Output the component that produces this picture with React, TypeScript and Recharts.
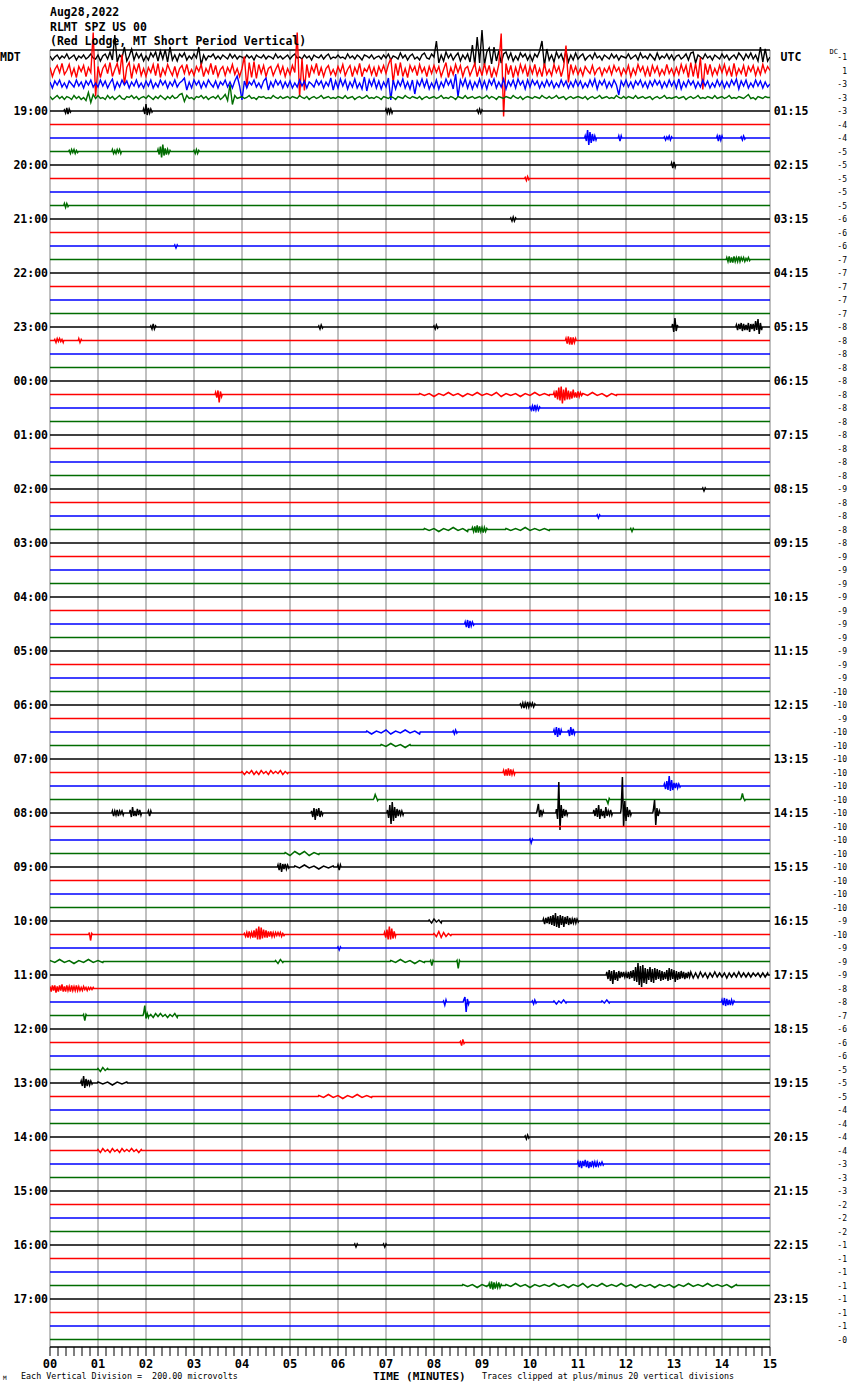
import React from 'react';
import { LineChart, Line, XAxis, YAxis, ReferenceLine } from 'recharts';

const WIDTH = 850;
const HEIGHT = 1390;
const SPACING = 13.5;
const Y_TOP = 32;
const Y_BOTTOM = -1290;
const FRAME_TOP = 7;
const TRACE_COUNT = 96;
const MONO = '"DejaVu Sans Mono", "Liberation Mono", monospace';

const COLORS = ['#000000', '#ff0000', '#0000ff', '#006c00'];
const MINUTES = [0, 1, 2, 3, 4, 5, 6, 7, 8, 9, 10, 11, 12, 13, 14, 15];
const X_TICK_LABELS = ['00', '01', '02', '03', '04', '05', '06', '07', '08', '09', '10', '11', '12', '13', '14', '15'];
const SUBTICKS_PER_MIN = 6;

const LEFT_LABELS = ['MDT', '19:00', '20:00', '21:00', '22:00', '23:00', '00:00', '01:00', '02:00', '03:00', '04:00', '05:00', '06:00', '07:00', '08:00', '09:00', '10:00', '11:00', '12:00', '13:00', '14:00', '15:00', '16:00', '17:00'];
const RIGHT_LABELS = ['UTC', '01:15', '02:15', '03:15', '04:15', '05:15', '06:15', '07:15', '08:15', '09:15', '10:15', '11:15', '12:15', '13:15', '14:15', '15:15', '16:15', '17:15', '18:15', '19:15', '20:15', '21:15', '22:15', '23:15'];
const DC_VALUES = [
  '-1', '1', '-3', '-3', '-3', '-4', '-4', '-5', '-5', '-5', '-5', '-5', '-6', '-6', '-6', '-7', '-7', '-7', '-7', '-7', '-8', '-8', '-8', '-8',
  '-8', '-8', '-8', '-8', '-8', '-8', '-8', '-8', '-9', '-8', '-8', '-8', '-8', '-9', '-9', '-9', '-9', '-9', '-9', '-9', '-9', '-9', '-9', '-10',
  '-10', '-9', '-10', '-10', '-10', '-10', '-10', '-10', '-10', '-10', '-10', '-10', '-10', '-10', '-10', '-10', '-9', '-10', '-9', '-9', '-9', '-8', '-8', '-7',
  '-6', '-6', '-6', '-5', '-5', '-5', '-4', '-4', '-4', '-4', '-3', '-3', '-3', '-2', '-2', '-2', '-1', '-1', '-1', '-1', '-1', '-1', '-1', '-0',
];

// Noise of the first (busy) hour, per minute, sampled every 0.05 min
const NOISE_STEP = 0.05;
const BLACK_NOISE = [
  [1, -3, 0, 2, -2, 1, -1, 3, -2, 0, 2, -3, 1, -1, 2, -2, 0, 3, -1, -2],
  [2, -4, 1, 3, -2, 5, -3, 22, -5, 2, -1, 10, -4, 1, 8, -3, 4, -1, 3, -4],
  [1, -3, 4, 0, 5, -4, 6, -2, 7, -5, 10, -3, 2, -4, 3, 0, 4, -3, 1, -2],
  [3, -1, 10, -8, 2, -3, 1, 0, 3, -2, 1, -2, 2, 0, -2, 3, -1, 2, -2, 1],
  [0, -2, 2, -1, 1, -3, 2, 0, -1, 2, -2, 1, 0, -2, 3, -1, 1, -2, 0, 2],
  [-2, 1, 3, -1, 0, -2, 2, -1, 1, -3, 2, 0, -1, 2, -2, 1, 3, -2, 0, -1],
  [2, -1, 0, -2, 3, -1, 1, -2, 2, 0, -3, 2, 1, -1, 2, -2, 0, 1, -2, 2],
  [-1, 3, -3, 1, 0, -2, 4, -1, 2, -3, 1, 3, -2, 0, -3, 2, 4, -1, -2, 3],
  [0, 16, -6, 2, -4, 5, -1, 3, -3, 1, 4, -4, 2, -2, 3, -5, 12, -8, 20, -6],
  [27, -8, 5, 9, -7, 10, -4, 6, -6, 3, 5, -2, 4, -4, 1, -3, 4, 0, 3, -3],
  [2, -4, 3, 0, 6, 16, -9, 8, -3, 2, -5, 5, -1, 3, -4, 6, -5, 2, -3, 4],
  [-2, 1, 3, -3, 0, 2, -2, 4, -1, 1, -3, 2, 0, -2, 3, -1, 2, -3, 1, 0],
  [-1, 3, -2, 0, 2, -3, 4, -1, 1, -2, 3, 0, -3, 4, -2, 1, -1, 3, -2, 2],
  [-3, 1, 2, -2, 0, 3, -3, 4, 5, -6, 2, 0, -2, 3, -1, 1, -3, 2, 0, -2],
  [3, -1, 2, -3, 0, 2, -2, 4, 1, -3, 3, -1, 4, -2, 2, -4, 10, -5, 8, -4],
];
const RED_NOISE = [
  [3, -6, 1, 5, -2, 7, -4, 0, 6, -5, 2, -7, 4, -1, 5, -6, 3, -2, 38, -26],
  [4, -7, 2, 6, -3, 8, -6, 1, 7, -4, 16, -14, 3, 8, -8, 5, -2, 7, -5, 2],
  [-6, 3, -2, 6, -5, 7, -7, 2, -4, 6, 0, -5, 4, -6, 2, 5, -3, 6, -4, 1],
  [-5, 4, -1, 6, -6, 2, -3, 7, -4, 5, -6, 1, 4, -5, 3, -2, 6, -4, 2, -6],
  [2, 14, -17, 8, -7, 9, -8, 6, -3, 5, -6, 2, 4, -5, 1, 6, -3, 4, -6, 2],
  [-4, 5, -2, 38, -26, 12, -20, 6, -7, 4, -2, 7, -5, 3, -6, 2, 5, -4, 1, -5],
  [4, -2, 6, -5, 1, 5, -6, 3, -3, 7, -6, 2, -1, 5, -4, 3, -6, 4, -2, 5],
  [-3, 6, 12, -12, 7, -5, 8, -6, 2, -7, 5, -1, 4, -5, 6, -2, 3, -6, 4, -3],
  [5, -2, 4, -6, 1, 8, -7, 3, -4, 6, -2, 5, -6, 2, 4, -5, 1, 7, -6, 3],
  [-5, 7, -3, 5, -7, 2, -5, 6, 37, -46, 7, -4, 5, -7, 3, -5, 6, -2, 5, -6],
  [4, -3, 6, -5, 2, -6, 7, -4, 1, -5, 6, -2, 4, -6, 3, 25, -12, 6, -3, 4],
  [-4, 2, -5, 4, 0, -3, 5, -4, 1, 3, -5, 2, -2, 4, -4, 5, -1, 3, -5, 2],
  [-3, 5, -6, 2, -4, 6, -1, 4, -5, 3, -6, 5, -2, 4, -5, 1, -4, 6, -3, 2],
  [-5, 3, -4, 6, -2, 5, -7, 8, -6, 7, -8, 13, -19, 7, -4, 6, -5, 2, -4, 5],
  [-2, 6, -4, 3, -6, 7, -5, 2, -3, 5, -6, 4, -1, 5, -5, 3, -4, 6, -2, 4],
];
const BLUE_NOISE = [
  [2, -4, 3, -1, 4, -3, 1, -4, 3, 0, -3, 4, -2, 2, -4, 3, -1, 4, -3, 1],
  [-3, 4, -2, 3, -4, 1, 5, -5, 2, -3, 4, -1, 3, -4, 2, -2, 4, -3, 1, -4],
  [3, -2, 4, -4, 1, -3, 4, -1, 3, -4, 2, -2, 4, -3, 1, 3, 6, -6, 2, -4],
  [4, -1, 3, -4, 2, -3, 4, 0, -3, 3, -4, 2, -1, 4, -3, 2, -4, 3, 8, -2],
  [-16, 3, -4, 2, -1, 4, -3, 1, -4, 3, 6, -6, 2, -3, 4, -1, 3, -4, 2, -3],
  [3, -4, 1, -3, 4, -2, 3, -4, 2, 0, -3, 4, -1, 3, -4, 2, -2, 6, -6, 3],
  [-4, 5, -2, 4, -5, 2, -3, 5, -4, 1, -5, 7, -7, 4, -2, 5, -4, 3, -5, 2],
  [-3, 6, -16, 4, -5, 3, -2, 5, -4, 2, -5, 4, -10, 3, -2, 5, -3, 4, -5, 1],
  [-4, 4, -5, 2, -3, 5, -1, 4, -5, 10, -13, 4, -2, 5, -4, 3, -5, 2, -3, 5],
  [-4, 3, -5, 4, -1, 5, -4, 2, -3, 5, -5, 3, -2, 4, -4, 5, -1, 3, -5, 4],
  [-3, 4, -1, 3, -4, 2, -3, 4, -2, 3, -4, 1, -3, 4, -2, 3, -4, 2, -3, 4],
  [-2, 3, -4, 1, -3, 4, -2, 5, -5, 3, -1, 4, -4, 2, -3, 4, -1, -11, 3, -2],
  [4, -3, 2, -4, 3, -1, 4, -3, 2, -4, 3, -2, 4, -1, 3, -4, 2, -3, 4, -2],
  [3, -4, 5, -5, 2, -3, 4, -1, 3, -4, 2, -3, 4, -2, 3, -4, 1, -3, 4, -2],
  [3, -4, 2, -3, 4, -1, 5, -5, 3, -2, 4, -4, 1, -3, 4, -2, 3, -4, 2, -3],
];
const GREEN_NOISE = [
  [1, -2, 0, 2, -1, 1, -2, 1, 0, -2, 2, -1, 1, -2, 0, -3, 5, -5, 3, -1],
  [2, -1, 0, -2, 2, -1, 1, -2, 0, 2, -1, -2, 1, 0, 2, -1, 1, -2, 0, 1],
  [-1, 2, 0, -2, 1, -1, 2, 0, -2, 1, -1, 2, -1, 0, 3, 4, -4, 2, -1, 0],
  [-2, 1, 0, 2, -1, 1, -2, 0, 1, -1, 2, -2, 0, 3, -3, 13, -7, 2, -1, 0],
  [1, -1, 0, 2, -1, 0, -2, 1, 0, 1, -1, 0, -1, 2, 0, -1, 1, -1, 0, 1],
  [-1, 1, 0, -1, 2, 0, -1, 1, -2, 0, 1, -1, 0, 2, -1, 0, 1, -1, 0, -1],
  [1, 0, -1, 2, -1, 0, 1, -2, 0, 1, -1, 0, 2, -1, 0, -1, 1, 0, -2, 1],
  [0, -1, 1, 0, -2, 1, 0, -1, 2, 0, -1, 1, 0, -1, 1, -2, 0, 1, -1, 0],
  [1, -1, 0, 2, -1, 0, -1, 1, 0, -2, 1, 0, -1, 2, -1, 0, 1, -1, 0, 1],
  [-1, 0, 2, -1, 1, 0, -2, 1, 0, -1, 1, 0, -1, 2, 0, -1, 1, -2, 0, 1],
  [0, -1, 1, 0, -1, 2, 0, -1, 1, -1, 0, 2, -1, 0, 1, -2, 0, 1, -1, 0],
  [1, 0, -1, 1, -2, 0, 1, -1, 0, 2, -1, 0, 1, -1, 0, -1, 2, 0, -1, 1],
  [-1, 1, 0, -1, 2, -1, 0, 1, -1, 0, 1, -2, 0, 1, -1, 0, 2, -1, 0, -1],
  [0, 1, -1, 0, 1, -2, 0, 1, -1, 0, 2, -1, 0, -1, 1, 0, -1, 2, -1, 0],
  [1, -1, 0, 2, -1, 0, -1, 1, 0, -1, 1, 3, -1, 0, -2, 1, 0, -1, 1, 0],
];
const TOP_NOISE = [BLACK_NOISE, RED_NOISE, BLUE_NOISE, GREEN_NOISE];

// Events on the quieter traces: [trace index, start minute, sample step (min), deflections]
const FINE = 0.025;
const MID = 0.05;
const COARSE = 0.1;
const EVENTS: [number, number, number, number[]][] = [
  [4, 0.3, FINE, [1, -2, 3, -3, 2, -1]],
  [4, 1.95, FINE, [2, -3, 7, -4, 3, -2, 2, -1]],
  [4, 7.0, FINE, [2, -2, 3, -2, 2, -2]],
  [4, 8.9, FINE, [1, -2, 2, -2, 1]],
  [6, 11.15, FINE, [2, -3, 8, -7, 6, -5, 4, -3, 2, -2]],
  [6, 11.85, FINE, [2, -3, 2]],
  [6, 12.8, FINE, [1, -2, 1, -1, 2, -2, 1]],
  [6, 13.9, FINE, [2, -3, 3, -2, 2]],
  [6, 14.4, FINE, [1, -2, 2, -1]],
  [7, 0.4, FINE, [1, -2, 2, -1, 2, -2, 1, -1]],
  [7, 1.3, FINE, [2, -2, 1, -2, 2, -1, 2, -2]],
  [7, 2.25, FINE, [2, -3, 5, -6, 7, -4, 3, -3, 2, -2, 1]],
  [7, 3.0, FINE, [1, -2, 2, -2, 1]],
  [8, 12.95, FINE, [2, -3, 3, -2]],
  [9, 9.9, FINE, [1, -2, 2, -1]],
  [11, 0.3, FINE, [2, -2, 2, -1]],
  [12, 9.6, FINE, [1, -2, 2, -2, 1]],
  [14, 2.6, FINE, [1, -2, 1]],
  [15, 14.1, FINE, [2, -2, 3, -3, 2, -3, 3, -2, 2, -2, 3, -2, 2, -1, 2, -2, 1, -1, 2, -1]],
  [20, 2.1, FINE, [1, -2, 3, -2, 1]],
  [20, 5.6, FINE, [1, -2, 2, -1]],
  [20, 8.0, FINE, [1, -2, 2, -1]],
  [20, 12.97, FINE, [3, -5, 9, -4, 2]],
  [20, 14.3, FINE, [2, -3, 3, -2, 4, -4, 3, -3, 2, -3, 4, -5, 3, -2, 3, -4, 6, -3, 8, -7, 4, -3]],
  [21, 0.1, FINE, [1, -2, 2, -1, 2, -1, 1, -2]],
  [21, 0.6, FINE, [2, -2, 1]],
  [21, 10.75, FINE, [2, -3, 4, -4, 3, -4, 3, -2, 2]],
  [25, 3.45, FINE, [2, -3, 4, -8, 3, -2]],
  [25, 7.7, COARSE, [1, -1, 1, -2, 1, -1, 2, -1, 1, -2, 1, -1, 2, -1, 1, -1, 2, -2, 1, -1, 1, -2, 1, -1, 2, -1, 1, -1]],
  [25, 10.5, FINE, [2, -3, 4, -5, 7, -6, 8, -9, 5, -6, 7, -5, 4, -5, 3, -4, 5, -3, 2, -3, 3, -2, 2, -1]],
  [25, 11.1, COARSE, [1, -1, 2, -1, 1, -2, 1, -1]],
  [26, 10.0, FINE, [1, -2, 2, -3, 3, -2, 2, -2, 1]],
  [32, 13.6, FINE, [1, -2, 1]],
  [34, 11.4, FINE, [1, -2, 1]],
  [35, 7.8, COARSE, [1, -1, 1, -2, 1, -1, 2, -1, 1, -2]],
  [35, 8.8, FINE, [2, -2, 3, -3, 4, -3, 3, -2, 2, -3, 2, -2, 1]],
  [35, 9.5, COARSE, [1, -1, 1, -1, 2, -1, 1, -1, 1, -1]],
  [35, 12.1, FINE, [1, -2, 1]],
  [42, 8.65, FINE, [2, -3, 4, -4, 3, -2, 2, -1]],
  [48, 9.8, FINE, [1, -2, 2, -3, 2, -2, 3, -2, 2, -1, 2, -2, 1]],
  [50, 6.6, COARSE, [1, -2, 1, -1, 2, -2, 1, -1, 2, -1, 1, -2]],
  [50, 8.4, FINE, [1, -2, 2, -1]],
  [50, 10.5, FINE, [2, -3, 5, -5, 4, -3, 2]],
  [50, 10.8, FINE, [2, -4, 5, -3, 3, -2]],
  [51, 6.9, COARSE, [1, -1, 2, -1, 1, -2, 1]],
  [53, 4.0, MID, [1, -2, 1, -1, 2, -2, 1, -2, 2, -1, 1, -2, 2, -1, 1, -1, 2, -2, 1, -1]],
  [53, 9.45, FINE, [2, -3, 3, -3, 4, -3, 3, -2, 2, -2]],
  [54, 12.8, FINE, [2, -3, 5, -4, 10, -5, 6, -4, 3, -2, 3, -2, 2, -1]],
  [55, 6.75, FINE, [1, 5, 2, -1]],
  [55, 11.6, FINE, [-1, -4, 1]],
  [55, 14.4, FINE, [1, 6, 1, -1]],
  [56, 1.3, FINE, [2, -3, 2, -2, 3, -3, 2, -1, 2, -2]],
  [56, 1.67, FINE, [3, -4, 6, -3, 2, -3, 4, -2, 3, -2]],
  [56, 2.05, FINE, [2, -3, 2]],
  [56, 5.45, FINE, [2, -4, 5, -7, 4, -3, 5, -4, 2, -2]],
  [56, 7.03, FINE, [3, -5, 8, -11, 11, -8, 6, -5, 4, -3, 3, -2, 2, -2]],
  [56, 10.15, FINE, [3, 9, -4, 3, -2, 2]],
  [56, 10.55, FINE, [4, -6, 31, -17, 8, -5, 4, -3, 3, -2]],
  [56, 11.33, FINE, [3, -3, 5, -4, 8, -6, 4, -3, 2, -5, 6, -3, 2, -2, 3, -2]],
  [56, 11.9, FINE, [5, 36, -14, 12, -8, 6, -4, 3, -2]],
  [56, 12.57, FINE, [3, 13, -12, 5, -3, 2]],
  [58, 10.0, FINE, [1, -3, 1]],
  [59, 4.9, COARSE, [1, -2, 2, -1, 2, -2, 1, -1]],
  [60, 4.75, FINE, [2, -3, 4, -5, 3, -2, 3, -2, 2, -1]],
  [60, 5.1, COARSE, [1, -1, 2, -1, 1, -2, 1, -1, 1]],
  [60, 6.0, FINE, [2, -3, 2]],
  [64, 7.9, MID, [1, -2, 2, -1, 1, -2]],
  [64, 10.28, FINE, [2, -3, 3, -2, 4, -3, 5, -4, 6, -5, 8, -6, 5, -7, 6, -4, 5, -6, 4, -3, 5, -4, 3, -3, 2, -2, 3, -2, 2, -1]],
  [65, 0.82, FINE, [2, -6, 1]],
  [65, 4.05, FINE, [1, -2, 2, -3, 3, -2, 2, -3, 4, -3, 6, -5, 8, -5, 7, -4, 5, -3, 4, -3, 3, -2, 3, -2, 2, -2, 2, -1, 2, -1, 2, -2, 1, -1]],
  [65, 6.97, FINE, [2, -3, 5, -5, 8, -5, 6, -4, 3, -2]],
  [65, 8.0, MID, [1, -2, 3, -3, 2, -2, 1, -1]],
  [66, 6.0, FINE, [1, -2, 1]],
  [67, 0.0, COARSE, [1, -1, 2, -1, 1, -2, 1, -1, 2, -1, 1, -1]],
  [67, 4.7, MID, [1, -2, 2, -1]],
  [67, 7.1, COARSE, [1, -1, 2, -1, 1, -2, 1, -1]],
  [67, 7.93, FINE, [1, -4, 1]],
  [67, 8.48, FINE, [1, -7, 1]],
  [68, 11.6, FINE, [3, -4, 5, -6, 4, -9, 5, -5, 3, -6, 4, -3, 3, -2, 3, -2]],
  [68, 12.0, FINE, [2, -3, 3, -4, 4, -3, 5, -6, 8, -7, 12, -10, 9, -12, 10, -8, 7, -9, 6, -5, 8, -7, 6, -8, 7, -5, 6, -4, 5, -6, 4, -5, 3, -4]],
  [68, 12.85, FINE, [5, -6, 7, -5, 6, -4, 5, -7, 4, -5, 3, -4, 4, -3, 3, -4, 2, -3, 3, -2]],
  [68, 13.35, MID, [3, -3, 2, -3, 3, -2, 2, -3, 2, -2, 3, -2, 2, -2, 2, -3, 2, -2, 2, -2, 3, -2, 2, -2, 2, -2, 2, -1, 2, -2, 2, -2, 2]],
  [69, 0.0, FINE, [2, -3, 3, -2, 3, -4, 2, -3, 3, -2, 4, -3, 2, -3, 3, -2, 2, -3, 3, -2, 2, -2, 3, -2, 2, -2, 1, -2, 2, -1, 1, -2, 1, -1, 1, -1, 1]],
  [70, 8.2, FINE, [1, -3, 2]],
  [70, 8.62, FINE, [2, 5, -10, 3, -2]],
  [70, 10.05, FINE, [1, -2, 2, -1]],
  [70, 10.5, MID, [1, -2, 1, -1, 2, -1]],
  [70, 11.5, MID, [1, -1, 2, -1]],
  [70, 14.0, FINE, [2, -3, 4, -4, 3, -3, 2, -3, 2, -2, 1]],
  [71, 0.7, FINE, [1, -5, 1]],
  [71, 1.95, FINE, [2, 10, -3, 2, -2]],
  [71, 2.1, MID, [1, -2, 2, -1, 2, -1, 1, -2, 1, -1, 2, -2]],
  [73, 8.55, FINE, [1, -3, 3, -1]],
  [75, 1.0, MID, [1, -2, 2, -1, 1]],
  [76, 0.65, FINE, [2, -3, 7, -5, 4, -3, 3, -2, 2, -1]],
  [76, 1.0, COARSE, [1, -1, 1, -2, 1, -1, 1]],
  [77, 5.6, COARSE, [1, -1, 2, -1, 1, -2, 1, -1, 2, -1, 1, -1]],
  [80, 9.9, FINE, [1, -2, 2, -1]],
  [81, 1.0, MID, [1, -2, 2, -1, 1, -2, 2, -1, 1, -2, 2, -1, 1, -1, 2, -1, 1, -2, 1]],
  [82, 11.0, FINE, [2, -3, 3, -4, 3, -2, 4, -3, 3, -4, 2, -3, 3, -2, 2, -3, 2, -2, 1, -1, 2, -1]],
  [88, 6.35, FINE, [1, -2, 1]],
  [88, 6.95, FINE, [1, -2, 1]],
  [91, 8.6, COARSE, [1, -1, 1, -2, 1, -1]],
  [91, 9.15, FINE, [2, -3, 4, -4, 3, -3, 2, -2, 3, -2, 1]],
  [91, 9.5, COARSE, [1, -1, 2, -1, 1, -2, 1, -1, 1, -1, 2, -1, 1, -2, 1, -1, 2, -2, 1, -1, 2, -1, 1, -1, 2, -1, 1, -2, 1, -1, 1, -2, 1, -1, 1, -2, 1, -1, 2, -1, 1, -1, 2, -1, 1, -1, 1, -2, 1]],
];

type Pt = { x: number; y: number };
const ANCHOR = FINE / 2;

function buildTrace(i: number): Pt[] {
  const base = -i * SPACING;
  if (i < TOP_NOISE.length) {
    const pts: Pt[] = [];
    TOP_NOISE[i].forEach((minute, m) => {
      minute.forEach((v, k) => pts.push({ x: m + k * NOISE_STEP, y: base + v }));
    });
    pts.push({ x: 15, y: base });
    return pts;
  }
  const pts: Pt[] = [{ x: 0, y: base }];
  EVENTS.filter((e) => e[0] === i)
    .sort((a, b) => a[1] - b[1])
    .forEach(([, t, step, vals]) => {
      // return to the baseline around each event so the quiet stretches stay flat
      if (t - ANCHOR > 0) pts.push({ x: t - ANCHOR, y: base });
      vals.forEach((v, k) => pts.push({ x: t + k * step, y: base + v }));
      const end = t + (vals.length - 1) * step + ANCHOR;
      if (end < 15) pts.push({ x: end, y: base });
    });
  pts.push({ x: 15, y: base });
  return pts;
}

const TRACE_INDICES = Array.from({ length: TRACE_COUNT }, (_, i) => i);
const TRACES = TRACE_INDICES.map(buildTrace);
const LEFT_TICKS = LEFT_LABELS.map((_, k) => -k * 4 * SPACING);
const RIGHT_TICKS = TRACE_INDICES.map((i) => -i * SPACING);
const X_TICKS = Array.from({ length: 15 * SUBTICKS_PER_MIN + 1 }, (_, k) => k / SUBTICKS_PER_MIN);

const idxOf = (v: number) => Math.round(-v / SPACING);

const LeftTick = (props: any) => {
  const { x, y, payload } = props;
  const i = idxOf(payload.value);
  const label = LEFT_LABELS[i / 4];
  if (i === 0) {
    return (
      <text x={0} y={y + 4} fontFamily={MONO} fontWeight="bold" fontSize={11.5} fill="#000">
        {label}
      </text>
    );
  }
  return (
    <text x={x} y={y + 4} textAnchor="end" fontFamily={MONO} fontWeight="bold" fontSize={11.5} fill="#000">
      {label}
    </text>
  );
};

const RightTick = (props: any) => {
  const { y, payload } = props;
  const i = idxOf(payload.value);
  return (
    <g>
      {i % 4 === 0 && (
        <text x={791} y={y + 4} textAnchor="middle" fontFamily={MONO} fontWeight="bold" fontSize={11.5} fill="#000">
          {RIGHT_LABELS[i / 4]}
        </text>
      )}
      {i === 0 && (
        <text x={838} y={y - 3} textAnchor="end" fontFamily={MONO} fontSize={7} fill="#000">
          DC
        </text>
      )}
      <text x={847} y={y + 3} textAnchor="end" fontFamily={MONO} fontSize={8} fill="#000">
        {DC_VALUES[i]}
      </text>
    </g>
  );
};

const BottomTick = (props: any) => {
  const { x, y, payload } = props;
  const v = payload.value;
  const major = Math.abs(v - Math.round(v)) < 1e-6;
  return (
    <g>
      <line x1={x} x2={x} y1={y} y2={y + 9} stroke="#000" strokeWidth={1} />
      {major && (
        <text x={x} y={y + 21} textAnchor="middle" fontFamily={MONO} fontWeight="bold" fontSize={12} fill="#000">
          {X_TICK_LABELS[Math.round(v)]}
        </text>
      )}
    </g>
  );
};

export default function App() {
  return (
    <div style={{ position: 'absolute', left: 0, top: 0, width: WIDTH, height: HEIGHT, background: '#fff' }}>
      <LineChart width={WIDTH} height={HEIGHT} margin={{ top: 25, right: 0, bottom: 0, left: 0 }}>
        <XAxis
          type="number"
          dataKey="x"
          domain={[0, 15]}
          allowDataOverflow
          ticks={X_TICKS}
          interval={0}
          height={43}
          tickLine={false}
          tickSize={0}
          tickMargin={0}
          axisLine={{ stroke: '#000', strokeWidth: 1.5 }}
          tick={BottomTick}
        />
        <YAxis
          yAxisId="left"
          type="number"
          domain={[Y_BOTTOM, Y_TOP]}
          allowDataOverflow
          ticks={LEFT_TICKS}
          interval={0}
          width={50}
          tickLine={false}
          axisLine={false}
          tickSize={0}
          tickMargin={2}
          tick={LeftTick}
        />
        <YAxis
          yAxisId="right"
          orientation="right"
          type="number"
          domain={[Y_BOTTOM, Y_TOP]}
          allowDataOverflow
          ticks={RIGHT_TICKS}
          interval={0}
          width={80}
          tickLine={false}
          axisLine={false}
          tickSize={0}
          tickMargin={2}
          tick={RightTick}
        />
        {MINUTES.map((m) => (
          <ReferenceLine
            key={'g' + m}
            yAxisId="left"
            segment={[{ x: m, y: FRAME_TOP }, { x: m, y: Y_BOTTOM }]}
            stroke="#808080"
            strokeWidth={1}
          />
        ))}
        <ReferenceLine yAxisId="left" y={FRAME_TOP} stroke="#000" strokeWidth={1.5} />
        {TRACES.map((pts, i) => (
          <Line
            key={'t' + i}
            yAxisId="left"
            data={pts}
            dataKey="y"
            type="linear"
            stroke={COLORS[i % 4]}
            strokeWidth={i < 4 ? 1.4 : 1.5}
            dot={false}
            activeDot={false}
            isAnimationActive={false}
          />
        ))}
      </LineChart>
      <svg
        width={WIDTH}
        height={HEIGHT}
        style={{ position: 'absolute', left: 0, top: 0, pointerEvents: 'none' }}
      >
        <g fontFamily={MONO} fontWeight="bold" fontSize={11.5} fill="#000">
          <text x={50} y={16}>Aug28,2022</text>
          <text x={50} y={31}>RLMT SPZ US 00</text>
          <text x={50} y={45}>(Red Lodge, MT Short Period Vertical)</text>
        </g>
        <text x={3} y={1380} fontFamily={MONO} fontSize={6} fill="#000">M</text>
        <text x={21} y={1379} fontFamily={MONO} fontSize={8.4} fill="#000" style={{ whiteSpace: 'pre' }}>
          {'Each Vertical Division =  200.00 microvolts'}
        </text>
        <text x={373} y={1380} fontFamily={MONO} fontWeight="bold" fontSize={11} fill="#000">
          TIME (MINUTES)
        </text>
        <text x={482} y={1379} fontFamily={MONO} fontSize={8.4} fill="#000">
          Traces clipped at plus/minus 20 vertical divisions
        </text>
      </svg>
    </div>
  );
}
